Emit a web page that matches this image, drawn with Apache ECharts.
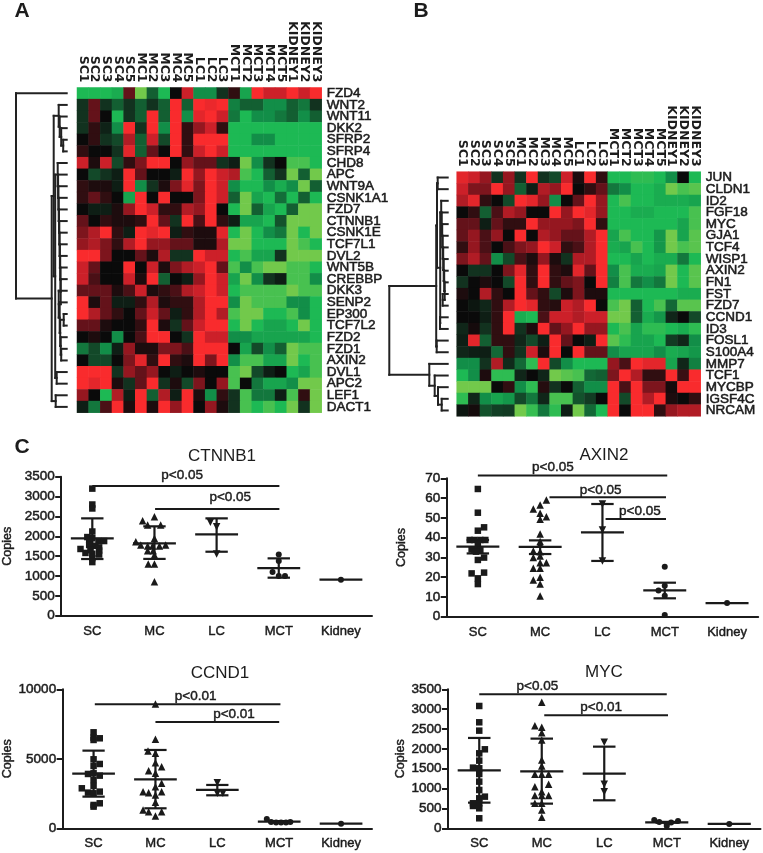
<!DOCTYPE html>
<html><head><meta charset="utf-8"><style>html,body{margin:0;padding:0;background:#fff}#c{width:763px;height:853px}</style>
<script src="https://cdn.jsdelivr.net/npm/echarts@6/dist/echarts.min.js"></script></head><body><div id="c"></div>
<script>
const samples=['SC1','SC2','SC3','SC4','SC5','MC1','MC2','MC3','MC4','MC5','LC1','LC2','LC3','MCT1','MCT2','MCT3','MCT4','MCT5','KIDNEY1','KIDNEY2','KIDNEY3'];
const genesA=['FZD4','WNT2','WNT11','DKK2','SFRP2','SFRP4','CHD8','APC','WNT9A','CSNK1A1','FZD7','CTNNB1','CSNK1E','TCF7L1','DVL2','WNT5B','CREBBP','DKK3','SENP2','EP300','TCF7L2','FZD2','FZD1','AXIN2','DVL1','APC2','LEF1','DACT1'];
const heatA=[
[-4,-4,-4,-3.7,2,-5,-2,-4,0,4,-3,-3,-1,1,-3.5,5,4,4,5,4,5],
[-1,2,-1,-2,-1,-2,-1,-2,5,-2,5,4.7,5,-2.7,-2,-2,-3,-3,-2,-2.5,-1],
[-1,2,0,-4,-1,-2,5,-2,5,-3,4.5,5,4,-2.5,-4,-3,-3,-2.5,-2,-3,-2],
[-1,1,-.6,-3,5,-1,5,-3,5,1,3,4,1,-4,-4,-4,-4,-4,-4,-4,-4],
[0,1,-1,-1.5,3.5,-2,4,-1.5,5,1,5,5,5,-4,-4,-3,-3,-4,-4,-4,-4],
[1,0,0,-1,4.5,-2,2,0,5,1,4,5,4,-4,-4,-4,-4,-4,-4,-4,-4],
[4,.5,4,-1.5,1,2.5,5,5,0,3,2,2,-1,-.5,-5,-3,-1,0,-4.5,-4.5,-4],
[0,-1.5,-1,-.5,5,2,0,0,-.5,5,3,5,4,3.5,-4.5,-4,-2,-1,-5,-2,-5],
[1,.5,.5,-.5,5,-3,-1,.5,2.5,4.5,2.5,5,4,-3,-4,-4,-3,-3.7,-3,-5,-2],
[1,2,1,0,-3.5,5,0,5,0,0,2.5,5,4,-2,-5,-3.5,-4,-2.3,-4,-2,-4],
[0,-.5,-.5,.5,3,5,4,1,1,3.5,3,5,0,-4,-5,-2,-3.5,-4,-2,-5,-5],
[2,0,1,.5,.5,1,5,2,-1,5,1.5,5,1,-.5,-3.5,-3.5,-4,-1.7,-5,-5,-5],
[2.5,3.5,5,1,-.5,5,4.5,5,-.5,1,.5,.5,4.5,-4,-5,-4,-3,-2.5,-5,-4,-5],
[3,3.5,2.5,1,3.5,5,3,3,2,2,.5,.5,3.5,-5,-5,-4,-4,-4,-5,-4.5,-4],
[5,5,2.5,0,0,2,.5,3.5,-1,-1,5,4,4,-4,-4.5,-3.5,-3.5,-1,-5,-5,-5],
[4,2,0,0,5,0,4,.5,2.5,3.5,4,5,2,-4.5,-3,-4.5,-5,-5,-4.5,-4.5,-4],
[4,1.5,0,0,4,.5,5,-2,0,-.5,3,5,4,-3.5,-5,-3,-1,-.5,-4.5,-4.5,-3],
[2,2,2,.5,1.5,4,.5,1,1.5,3.5,4,5,4,-4,-4.5,-4.5,-4.5,-4.5,-5,-4.5,-4.5],
[5,.5,2,-.5,-.5,1,3.5,.5,1,1,3.5,5,5,-3,-5,-4.5,-4.5,-4.5,-3,-3,-4],
[5,3.5,2,1,0,2,4,2,-.5,1,3.5,5,3.5,-4.5,-5,-5,-4,-4,-4.5,-3,-4],
[2,2,.5,0,0,1,5,.5,-1,2,4,5,5,-4,-5,-4,-3.5,-3.5,-4,-5,-4],
[0,.5,0,-3,0,1.5,5,5,0,-1,5,4,4,-3,-3,-3.5,-3.5,-3.5,-3.5,-3.5,-4],
[-2.5,-1.5,-3,-.5,3,.5,.5,2.5,2.5,1.5,5,5,5,0,-3.5,-1.5,-3,-2,-5,-4.5,-4.5],
[0,-1.5,-1.5,0,2.5,4.5,1,5,1,.5,5,2.5,5,-3,-4.5,-4.5,-3.5,-3.5,-5,-4,-4.5],
[5,5,5,-1,3,2,3,0,-.5,0,.5,0,0,-4.5,-5,-1.5,-.5,0,-4,-3.5,-4.5],
[5,4.5,5,.5,-1,2,5,-1,.5,-1.5,2.5,0,3,-4.5,0,-2.5,-3.5,-3.5,-3,-5,-5],
[3,0,-4,3.5,-.5,5,-2,3.5,-.5,5,.5,-3,1,-1,-4.5,-2.5,-2.5,-.5,-4.5,1,-5],
[-.5,-2.5,1.5,5,.5,5,.5,5,3,5,0,3,.5,-1,-4.5,-4,-4.5,-4,-5,-1,-5]];
const genesB=['JUN','CLDN1','ID2','FGF18','MYC','GJA1','TCF4','WISP1','AXIN2','FN1','FST','FZD7','CCND1','ID3','FOSL1','S100A4','MMP7','TCF1','MYCBP','IGSF4C','NRCAM'];
const heatB=[
[4.5,4,3,-1,3,-1,5,-1,-1.5,4,.5,5,1,-4,-4,-4.2,-4.2,-4,-3,0,-4],
[4,2.5,2.5,5,3,-2,-.5,3.5,3,5,0,1,2,-2.5,-3,-4,-4,-3.7,-5,-4.5,-4.7],
[3.5,4.5,1,0,-1.5,5,4.5,3,-3,0,2,5,3,-4,-4.5,-4,-4,-3.7,-3.7,-3.7,-3.5],
[0,1,-2,1.5,3.5,3,0,0,5,3,5,4.5,3,-4,-4,-3.7,-3.7,-4,-4,-4,-4.5],
[2,2,-.5,2,1,1,5,3,3,3,2.5,5,1,-4,-4,-4,-4,-4,-4,-3.5,-4.5],
[2,3,1.5,3,0,5,0,3.5,3,2,2,3.5,5,-3.5,-4.5,-4,-4,-3.2,-5,-3.5,-4.7],
[1,3,1.5,0,1.5,2.5,3,5,4,1,1.5,3.5,5,-3.7,-3.5,-4.5,-4,-3.2,-5,-4.5,-4.7],
[2.5,3.5,2,-3,-1.5,1.5,.5,3,.5,-1,3.5,3.5,5,-4,-4,-3.5,-4,-3.7,-3.7,-2.5,-4],
[0,-1,-1,0,2.5,4.5,1,5,1,.5,4.5,2,5,-3,-4.5,-3.7,-3.7,-3.5,-5,-4,-4.7],
[-1,0,.5,0,-1.5,5,1,5,1,2,2.5,0,5,-2.7,-4.5,-2.5,-3,-2.5,-5,-4,-4.7],
[.5,0,3.5,1,0,5,2,1,-1.5,.5,2.5,.5,.5,-4,-4,-4,-4,-4,-4,-3.7,-3.7],
[0,-.3,-.7,1,3.5,5,4.5,1,.7,4,3.5,5,0,-4.5,-5,-2,-4,-4.5,-2.2,-4.7,-4.7],
[0,0,-.5,1,5,-3.7,-4,1.5,4,4,3.5,4,4,-5,-5,-2,-3.7,-3.2,-.7,0,-1.5],
[-.7,.3,-1,1,5,-1,.5,5,2,3,5,3,3,-4,-4.5,-3.5,-4.2,-4.2,-4,-3.7,-4.2],
[-.5,4.5,-2,1,1,-.7,-1.5,-.5,5,2,0,-.5,5,-4.7,-4.2,-3.5,-3.5,-4,-1.2,-.7,-3],
[-.7,-.5,-.5,-2.2,1,-1,4,.5,5,0,5,2,2,-3,-3.5,-3.5,-3.5,-3,-3.7,-3.5,-3.2],
[-3,-3,-1,3.5,-.8,-2.2,-4.2,5,-1.5,-3,-4,-4,-4,3,1.5,5,4.5,4.5,-3.5,-.7,-2.7],
[-4,-3,.5,-4.2,-4.2,-.7,0,-.7,-5,-4.7,-4.5,-2.2,-2,2.5,5,3.5,1,1,5,1.2,5],
[-5,-5,-5,0,1,-3,-4.2,.7,-1,0,-2,-3,-3,5,1.5,5,2.5,2.5,.3,5,5],
[-4.2,-.7,-3,-3.5,-3.2,-1.5,-2.5,-.7,-4.5,-4.5,-1.7,-1.2,0,5,-1.5,5,3.5,5,.5,0,1],
[-.3,.3,-1.7,-1.3,-1.2,-5,-4.3,-2.5,-4.2,-.5,-5,-2.2,-4,5,0,5,5,1,3,3.5,3.5]];
/* merge trees: [height, child, child]; a bare number is a row */
const dendroA=[50.7,0,[15,[13,[8,1,[7,2,[5.5,3,[3.5,4,5]]]],
  [11.5,[9,6,[8.6,7,[8.3,8,[8,9,[7.7,10,[7.4,11,[7.1,12,[6.8,13,[6.5,14,[6.2,15,[6,16,[8,17,[7,18,[6.5,[3,19,20],[6,21,[5.5,22,23]]]]]]]]]]]]]]]],[10,24,25]]],[11,26,27]]];
const dendroB=[58.4,[11.5,[10.7,[10,0,1],[7.5,[6.5,2,[6,3,[5.5,4,[5,5,[4.5,6,[4,7,[3.5,8,[3,9,[5,10,11]]]]]]]]],[7.7,12,13]]],[11,14,15]],[18.4,16,[13,17,[9.7,18,[6,19,20]]]]];
const groups=['SC','MC','LC','MCT','Kidney'];
/* each point: [offset from the group centre in group widths, copies] */
const ctnnb1=[
[[0,3200],[0,2800],[0,2700],[0,2120],[-.08,1980],[0,1950],[-.05,1900],[.1,1880],[.19,1880],[-.05,1780],[.05,1760],[.11,1720],[-.19,1680],[.11,1640],[-.11,1580],[0,1560],[.11,1540],[0,1450],[0,1350],[-.03,1650]],
[[-.19,2392],[0,2493],[-.11,2283],[.1,2283],[0,1947],[-.3,1863],[-.22,1780],[-.11,1754],[-.03,1754],[.08,1754],[.18,1780],[-.11,1637],[-.02,1637],[0,1528],[-.1,1301],[0,1301],[0,856]],
[[-.1,2350],[0,2240],[0,1553]],
[[0,1544],[0,1376],[-.1,1100],[0,999],[.1,999]],
[[0,906]]];
const axin2=[
[[0,64.6],[0,52.6],[.1,45.2],[0,43.5],[-.13,38.8],[-.06,38.8],[.04,38.8],[.12,38.8],[0,37],[-.06,34],[-.1,34],[.04,33.7],[-.03,32.9],[0,28.7],[.1,29.9],[-.1,21.9],[.1,22.3],[0,19.4],[0,16.5]],
[[.1,59],[0,56.5],[-.11,54.5],[0,52.3],[.1,50.6],[0,49.3],[0,41.8],[0,38],[0,36.8],[-.11,33.2],[0,32.9],[0,30.7],[-.11,29.9],[0,27.3],[.1,27.3],[-.11,24.5],[0,24.5],[0,19.9],[-.11,18.6],[0,16.5],[0,10.5]],
[[0,57],[0,43.9],[0,28.2]],
[[0,25.3],[0,15.7],[-.1,13.2],[0,10.6],[0,.8]],
[[0,6.9]]];
const ccnd1=[
[[0,6906],[0,6520],[.1,6475],[0,6355],[0,4964],[0,4484],[.1,4628],[-.09,3909],[0,3957],[.1,3789],[0,3477],[0,3046],[-.19,2878],[-.09,2566],[0,2518],[.1,2638],[0,1679],[.1,1799],[0,1559]],
[[0,8945],[0,6403],[-.12,5564],[0,5396],[0,4724],[-.11,4149],[.1,4436],[0,3957],[.1,3237],[0,2998],[-.2,2638],[-.11,2566],[0,2398],[.1,2638],[0,1871],[-.2,1319],[-.11,1199],[.1,1199],[0,887]],
[[0,3285],[0,2518],[.09,2518]],
[[-.2,671],[-.13,450],[-.05,420],[.03,410],[.11,420],[.18,460]],
[[0,336]]];
const myc=[
[[0,3080],[0,2669],[0,2459],[.09,1989],[0,1888],[0,1704],[-.1,1528],[0,1511],[0,1368],[0,1175],[0,965],[.09,797],[0,755],[-.1,630],[0,630],[-.1,562],[0,503],[0,252]],
[[0,3173],[-.11,2585],[0,2543],[0,2409],[0,2224],[0,1720],[0,1570],[-.11,1360],[0,1360],[.11,1360],[.11,1108],[-.11,1049],[0,923],[-.11,823],[0,823],[.11,823],[-.11,630],[0,630],[0,462],[0,277]],
[[0,2165],[0,1108],[0,923]],
[[-.2,210],[-.12,160],[0,110],[.07,143],[.18,185],[0,60]],
[[0,109]]];
/* group summary: [mean, lower bar, upper bar] */
const ctnnb1Stats=[[1947,1427,2451],[1821,1430,2250],[2048,1611,2451],[1200,957,1444],[906,906,906]];
const axin2Stats=[[35.4,32,38.8],[35.3,31.7,38.6],[42.7,28.2,57],[13.3,9.3,17.2],[6.9,6.9,6.9]];
const ccnd1Stats=[[3933,2278,5588],[3525,1439,5635],[2758,2374,3118],[480,440,520],[336,336,336]];
const mycStats=[[1460,646,2275],[1435,621,2258],[1377,705,2056],[151,140,162],[109,109,109]];
/* significance: [from group, to group, level, text, text group position, text level] */
const ctnnb1Sig=[[0,3.01,3265,'p<0.05',1.445,3525],[1.01,3.01,2686,'p<0.05',2.22,2971]];
const axin2Sig=[[0,3.04,71.4,'p<0.05',1.205,75.4],[1.15,3.02,60.4,'p<0.05',1.97,64.1],[2.05,3.02,49.4,'p<0.05',2.6,53.5]];
const ccnd1Sig=[[.02,3.02,8921,'p<0.01',1.65,9520],[1,3,7650,'p<0.01',2.27,8225]];
const mycSig=[[0,3,3374,'p<0.05',.93,3567],[1.04,3.02,2845,'p<0.01',1.95,3038]];
const ctnnb1Ticks=[3500,500],axin2Ticks=[70,10],ccnd1Ticks=[10000,5000],mycTicks=[3500,500];

const FONT='"Liberation Sans",Arial,sans-serif', INK='#1c1c1c';
const grids=[],xAxes=[],yAxes=[],series=[],titles=[];
const W=763,H=853;
const semi={fontFamily:FONT,color:INK,textBorderColor:INK,textBorderWidth:.5};
function addHeat(genes,vals,l,t,w,h){
  const g=grids.length; grids.push({left:l,top:t,width:w,height:h});
  xAxes.push({gridIndex:g,type:'category',position:'top',data:samples,axisLine:{show:false},axisTick:{show:false},splitLine:{show:false},
    axisLabel:{interval:0,rotate:90,fontSize:12.5,fontFamily:'"DejaVu Sans"',fontWeight:'bold',color:INK,margin:5}});
  yAxes.push({gridIndex:g,type:'category',position:'right',inverse:true,data:genes,axisLine:{show:false},axisTick:{show:false},splitLine:{show:false},
    axisLabel:{interval:0,fontSize:13.5,margin:5,...semi,textBorderWidth:.55}});
  const d=[]; vals.forEach((r,y)=>r.forEach((v,x)=>d.push([x,y,v])));
  series.push({type:'heatmap',xAxisIndex:xAxes.length-1,yAxisIndex:yAxes.length-1,data:d,itemStyle:{borderWidth:0},emphasis:{disabled:true},silent:true,progressive:0});
}
function addDendro(tree,rows,l,t,w,h,maxH){
  const g=grids.length; grids.push({left:l,top:t,width:w,height:h});
  xAxes.push({gridIndex:g,type:'value',inverse:true,min:0,max:maxH,show:false});
  yAxes.push({gridIndex:g,type:'value',inverse:true,min:0,max:rows,show:false});
  const seg=[];
  (function walk(n){
    if(typeof n==='number')return{y:n+.5,h:0};
    const a=walk(n[1]),b=walk(n[2]);
    seg.push([a.h,a.y,n[0],a.y],[b.h,b.y,n[0],b.y],[n[0],a.y,n[0],b.y]);
    return{y:(a.y+b.y)/2,h:n[0]};
  })(tree);
  series.push({type:'custom',xAxisIndex:xAxes.length-1,yAxisIndex:yAxes.length-1,data:seg,encode:{x:[0,2],y:[1,3]},silent:true,clip:false,
    renderItem:(p,api)=>{const a=api.coord([api.value(0),api.value(1)]),b=api.coord([api.value(2),api.value(3)]);
      return{type:'line',shape:{x1:a[0],y1:a[1],x2:b[0],y2:b[1]},style:{stroke:'#222',lineWidth:2,lineCap:'square'}}}});
}
const shapes=['rect','triangle','triangle','circle','circle'],sizes=[6.5,7.5,7.5,6,6],rot=[0,0,180,0,0];
function addPanel(name,pts,stats,sig,ticks,l,t,w,h){
  const g=grids.length; grids.push({left:l,top:t,width:w,height:h});
  const xc=xAxes.length; 
  xAxes.push({gridIndex:g,type:'category',data:groups,axisLine:{onZero:false,lineStyle:{color:INK,width:2}},axisTick:{show:false},splitLine:{show:false},
    axisLabel:{interval:0,fontSize:13,margin:9,...semi,textBorderWidth:.45}});
  xAxes.push({gridIndex:g,type:'value',min:-.5,max:4.5,show:false});
  const yi=yAxes.length;
  yAxes.push({gridIndex:g,type:'value',min:0,max:ticks[0],interval:ticks[1],splitLine:{show:false},
    axisLine:{show:true,onZero:false,lineStyle:{color:INK,width:2}},axisTick:{show:true,length:6,lineStyle:{color:INK,width:2}},
    axisLabel:{fontSize:13.5,margin:6.5,formatter:v=>String(v),...semi},
    name:'Copies',nameLocation:'middle',nameGap:l<100?47:39,nameTextStyle:{fontSize:12.5,...semi,textBorderWidth:.45}});
  pts.forEach((gp,i)=>series.push({type:'scatter',xAxisIndex:xc+1,yAxisIndex:yi,symbol:shapes[i],symbolSize:sizes[i],symbolRotate:rot[i],silent:true,
    data:gp.map(p=>[i+p[0],p[1]]),itemStyle:{color:'#1a1a1a',opacity:1}}));
  series.push({type:'custom',xAxisIndex:xc+1,yAxisIndex:yi,silent:true,clip:false,data:stats.map((s,i)=>[i,s[0],s[1],s[2]]),encode:{x:0,y:1},
    renderItem:(p,api)=>{
      const i=api.value(0),m=api.value(1),lo=api.value(2),hi=api.value(3),c=[];
      const ln=(x1,y1,x2,y2)=>{const a=api.coord([x1,y1]),b=api.coord([x2,y2]);c.push({type:'line',shape:{x1:a[0],y1:a[1],x2:b[0],y2:b[1]},style:{stroke:'#1a1a1a',lineWidth:2.2}})};
      ln(i-.345,m,i+.345,m);
      if(hi>lo){ln(i,lo,i,hi);ln(i-.18,hi,i+.18,hi);ln(i-.18,lo,i+.18,lo);}
      return{type:'group',children:c};
    }});
  series.push({type:'custom',xAxisIndex:xc+1,yAxisIndex:yi,silent:true,clip:false,data:sig.map((s,i)=>[s[0],s[2],s[1],s[4],s[5]]),encode:{x:[0,2],y:1},
    renderItem:(p,api)=>{
      const a=api.coord([api.value(0),api.value(1)]),b=api.coord([api.value(2),api.value(1)]),t=api.coord([api.value(3),api.value(4)]);
      return{type:'group',children:[
        {type:'line',shape:{x1:a[0],y1:a[1],x2:b[0],y2:b[1]},style:{stroke:'#1a1a1a',lineWidth:2}},
        {type:'text',x:t[0],y:t[1],style:{text:sig[p.dataIndex][3],fontSize:13.5,fontFamily:FONT,fill:INK,stroke:INK,lineWidth:.45,align:'center',verticalAlign:'middle'}}]};
    }});
}
function addTitle(text,x,y,size,weight){titles.push({text,left:x,top:y,textAlign:'center',textVerticalAlign:'middle',padding:0,textStyle:{fontSize:size,fontWeight:weight,fontFamily:FONT,color:INK}});}

addHeat(genesA,heatA,77,87.5,244.7,325.2);
addHeat(genesB,heatB,456.7,171.7,244,244.6);
addDendro(dendroA,28,16,87.5,50.7,325.2,50.7);
addDendro(dendroB,21,389.3,171.7,58.4,244.6,58.4);
addPanel('CTNNB1',ctnnb1,ctnnb1Stats,ctnnb1Sig,ctnnb1Ticks,59,476.7,313,139);
addPanel('AXIN2',axin2,axin2Stats,axin2Sig,axin2Ticks,446.7,478.3,311.5,138.4);
addPanel('CCND1',ccnd1,ccnd1Stats,ccnd1Sig,ccnd1Ticks,59,689.3,313,139);
addPanel('MYC',myc,mycStats,mycSig,mycTicks,448,689.3,312.5,139);
addTitle('A',22,11,21,'bold');addTitle('B',421,11,21,'bold');addTitle('C',22,447,21,'bold');
addTitle('CTNNB1',222,456,17,'normal');addTitle('AXIN2',604,455,17,'normal');addTitle('CCND1',220,673,17,'normal');addTitle('MYC',604,672,17,'normal');

echarts.init(document.getElementById('c'),null,{renderer:'canvas',width:W,height:H}).setOption({
  animation:false,backgroundColor:'#fff',title:titles,grid:grids,xAxis:xAxes,yAxis:yAxes,series,
  visualMap:{type:'continuous',show:false,seriesIndex:[0,1],min:-5,max:5,dimension:2,
    inRange:{color:['#72c94b','#1db954','#128e48','#135f32','#12321f','#0a0a0a','#300e11','#64121a','#951720','#cc2029','#f92b2d']}}
});
</script></body></html>
